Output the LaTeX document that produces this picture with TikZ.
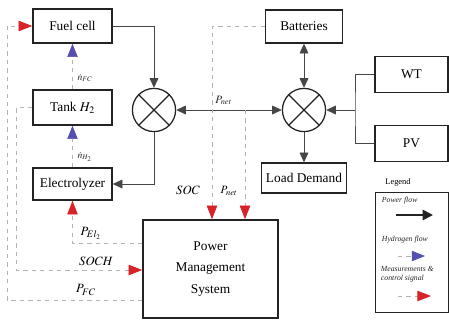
\documentclass[tikz,border=0pt]{standalone}
\usepackage{mathptmx}
\usepackage{fontspec}
\setmainfont{Liberation Serif}
\usepackage{xcolor}
\usetikzlibrary{arrows.meta,positioning,calc}
\definecolor{boxgray}{RGB}{35,35,35}
\definecolor{linegray}{RGB}{70,70,70}
\definecolor{dashgray}{RGB}{180,180,180}
\definecolor{sigred}{RGB}{215,35,40}
\definecolor{htwoblue}{RGB}{85,80,175}
\tikzset{
  blk/.style={rectangle, draw=boxgray, fill=white, line width=1.1pt,
    minimum width=19.75mm, minimum height=8.5mm, align=center,
    font=\fontsize{9.5}{11}\selectfont},
  sumj/.style={circle, draw=boxgray, line width=0.9pt,
    minimum size=10.8mm, inner sep=0pt},
  arr/.style={-{Triangle[length=2.4mm,width=2.2mm]}, line width=0.5pt, color=linegray},
  darr/.style={{Triangle[length=2.4mm,width=2.2mm]}-{Triangle[length=2.4mm,width=2.2mm]},
    line width=0.5pt, color=linegray},
  sig/.style={-{Triangle[length=3.4mm,width=2.6mm,color=sigred,fill=sigred]},
    dash pattern=on 3pt off 3pt, line width=0.5pt, color=dashgray},
  htwo/.style={-{Triangle[length=3.3mm,width=2.6mm,color=htwoblue,fill=htwoblue]},
    dash pattern=on 3pt off 3pt, line width=0.5pt, color=dashgray},
  lbl/.style={font=\fontsize{9}{10}\selectfont, text=black},
  smlbl/.style={font=\fontsize{7}{8}\selectfont, text=black!85},
  leg/.style={font=\fontsize{5.5}{6.5}\selectfont\itshape, align=left, anchor=west, text=black!85}
}
\begin{document}
\begin{tikzpicture}[x=0.25mm, y=-0.25mm]
\useasboundingbox (0,0) rectangle (449,321);

%% Hydrogen side
\node[blk] (fc)   at (72.5,26)  {Fuel cell};
\node[blk, minimum height=8.75mm] (tank) at (72.5,107.5) {Tank $H_2$};
\node[blk, minimum height=8mm] (el) at (72.5,184) {Electrolyzer};

%% Junctions
\node[sumj] (sl) at (154,110) {};
\node[sumj] (sr) at (304,110) {};
\draw[line width=0.9pt, boxgray] (sl.north west)--(sl.south east) (sl.north east)--(sl.south west);
\draw[line width=0.9pt, boxgray] (sr.north west)--(sr.south east) (sr.north east)--(sr.south west);

%% Electric side
\node[blk, minimum width=19.25mm, minimum height=8.25mm] (bat) at (304,26.5) {Batteries};
\node[blk, minimum width=20mm, minimum height=7.5mm] (load) at (304,178) {Load Demand};
\node[blk, minimum width=18.25mm, minimum height=9mm] (wt) at (411.5,74.5) {WT};
\node[blk, minimum width=18.25mm, minimum height=9mm] (pv) at (411.5,143.5) {PV};
\node[blk, minimum width=33.75mm, minimum height=24.5mm,
  font=\fontsize{9.5}{15}\selectfont] (pms) at (210.5,269) {Power\\Management\\System};

%% Power flow
\draw[arr] (fc.east) -| (sl.north);
\draw[arr] (sl.south) |- (el.east);
\draw[darr] (sl.east) -- node[smlbl, above, pos=0.45, font=\fontsize{8}{9}\selectfont]{$P_{net}$} (sr.west);
\draw[darr] (bat.south) -- (sr.north);
\draw[arr] (sr.south) -- (load.north);
\coordinate (wpj) at (355,110);
\draw[line width=0.5pt, linegray] (wt.west) -| (wpj) |- (pv.west);
\draw[arr] (wpj) -- (sr.east);

%% Hydrogen flow
\draw[htwo] (tank.north) -- node[smlbl, right, pos=0.25]{$\dot{n}_{FC}$} (fc.south);
\draw[htwo] (el.north) -- node[smlbl, right, pos=0.25]{$\dot{n}_{H_2}$} (tank.south);

%% Measurements and control signals
\coordinate (socx) at (212,0);
\coordinate (pnm) at (245,110);
\coordinate (pely) at (0,243);
\coordinate (sochy) at (0,270);
\coordinate (pfcl) at (7,300);
\draw[sig] (bat.west) -| (socx |- pms.north);
\draw[sig] (pnm) -- (pnm |- pms.north);
\draw[sig] (pms.west |- pely) -| (el.south);
\draw[sig] (tank.west) -- ++(-16,0) |- (pms.west |- sochy);
\draw[sig] (pms.west |- pfcl) -- (pfcl) |- (fc.west);

%% Signal labels
\node[lbl] (lsoc)  at (188,190) {$SOC$};
\node[lbl, font=\fontsize{8}{9}\selectfont] (lpnet) at (229,191) {$P_{net}$};
\node[lbl] (lpel)  at (91,233)  {$P_{El_2}$};
\node[lbl] (lsoch) at (96,261)  {$SOCH$};
\node[lbl] (lpfc)  at (86,290)  {$P_{FC}$};

%% Legend
\node[font=\fontsize{6}{7}\selectfont] (legt) at (398,182) {Legend};
\node[draw=boxgray, line width=0.7pt, minimum width=18.25mm, minimum height=30mm] (legbox) at (411.5,252) {};
\node[leg] (lgp) at (377,201) {Power flow};
\coordinate (lgpa) at (396,215);
\coordinate (lgpb) at (433,215);
\draw[-{Triangle[length=2.6mm,width=2.6mm]}, line width=1.3pt, boxgray] (lgpa) -- (lgpb);
\node[leg] (lgh) at (377,240) {Hydrogen flow};
\coordinate (lgha) at (398,256);
\coordinate (lghb) at (425,256);
\draw[htwo] (lgha) -- (lghb);
\node[leg] (lgm) at (376,274) {Measurements \&\\control signal};
\coordinate (lgma) at (398,296);
\coordinate (lgmb) at (431,296);
\draw[sig] (lgma) -- (lgmb);

\end{tikzpicture}
\end{document}
